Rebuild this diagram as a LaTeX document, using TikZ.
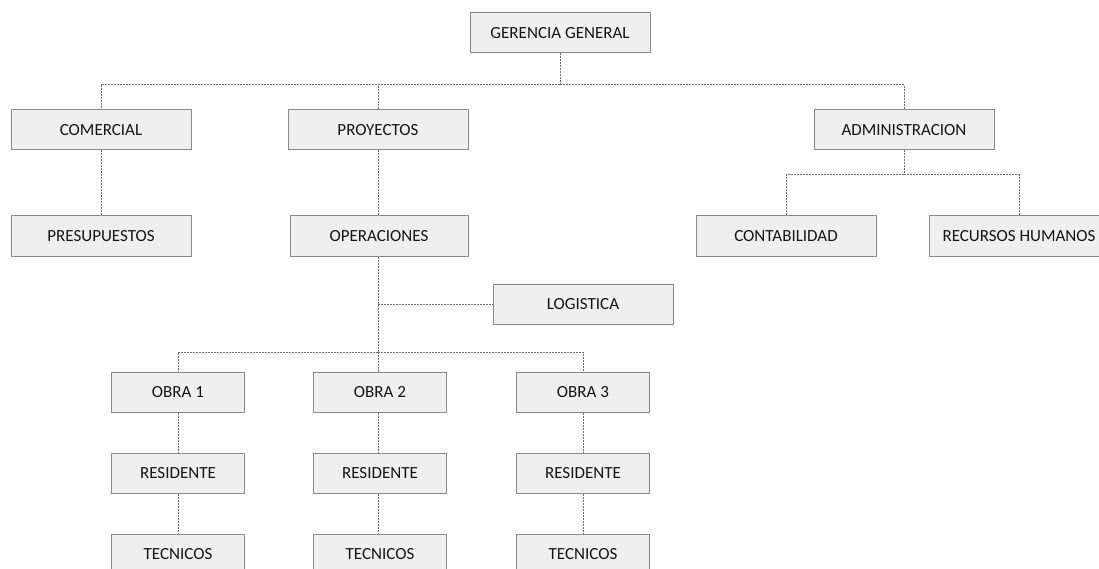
\documentclass[tikz,border=0pt]{standalone}
\usepackage{fontspec}
\setmainfont{Carlito}
\definecolor{boxfill}{HTML}{EFEFEF}
\definecolor{boxline}{HTML}{8A8A8A}
\definecolor{connline}{HTML}{6E6E6E}
\definecolor{txt}{HTML}{151515}
\begin{document}
\begin{tikzpicture}[x=1pt,y=-1pt,
  orgbox/.style={draw=boxline,fill=boxfill,line width=1pt,minimum height=40pt,
    inner sep=0pt,text=txt,font=\fontsize{17}{19}\selectfont},
  wide/.style={orgbox,minimum width=180pt},
  narrow/.style={orgbox,minimum width=133pt},
  conn/.style={draw=connline,line width=1pt,dash pattern=on 2pt off 1pt}]
\useasboundingbox (0,0) rectangle (1099,569);
\clip (0,0) rectangle (1099,569);
\node[wide] (gg) at (560,33) {GERENCIA GENERAL};
\node[wide] (com) at (101,130) {COMERCIAL};
\node[wide] (proy) at (378,130) {PROYECTOS};
\node[wide] (adm) at (904,130) {ADMINISTRACION};
\node[wide] (pres) at (101,236) {PRESUPUESTOS};
\node[wide,minimum width=178pt] (oper) at (379,236) {OPERACIONES};
\node[wide] (cont) at (786,236) {CONTABILIDAD};
\node[wide] (rrhh) at (1019,236) {RECURSOS HUMANOS};
\node[wide] (log) at (583,304) {LOGISTICA};
\node[narrow] (o1) at (178,392) {OBRA 1};
\node[narrow] (o2) at (380,392) {OBRA 2};
\node[narrow] (o3) at (583,392) {OBRA 3};
\node[narrow] (r1) at (178,473) {RESIDENTE};
\node[narrow] (r2) at (380,473) {RESIDENTE};
\node[narrow] (r3) at (583,473) {RESIDENTE};
\node[narrow] (t1) at (178,554) {TECNICOS};
\node[narrow] (t2) at (380,554) {TECNICOS};
\node[narrow] (t3) at (583,554) {TECNICOS};
\coordinate (j1) at (560,85);
\coordinate (j2) at (904,175);
\coordinate (j3) at (378,304);
\coordinate (j4) at (378,352);
\path[conn] (gg.south) -- (j1);
\path[conn] (j1) -| (com.north);
\path[conn] (j1) -| (adm.north);
\path[conn] (j1) -| (proy.north);
\path[conn] (com.south) -- (pres.north);
\path[conn] (proy.south) -- (proy.south |- oper.north);
\path[conn] (adm.south) -- (j2);
\path[conn] (j2) -| (cont.north);
\path[conn] (j2) -| (rrhh.north);
\path[conn] (proy.south |- oper.south) -- (j4);
\path[conn] (j3) -- (log.west);
\path[conn] (j4) -| (o1.north);
\path[conn] (j4) -| (o3.north);
\path[conn] (j4) -- (j4 |- o2.north);
\path[conn] (o1.south) -- (r1.north);
\path[conn] (r1.south) -- (t1.north);
\path[conn] (j4 |- o2.south) -- (j4 |- r2.north);
\path[conn] (j4 |- r2.south) -- (j4 |- t2.north);
\path[conn] (o3.south) -- (r3.north);
\path[conn] (r3.south) -- (t3.north);
\end{tikzpicture}
\end{document}
